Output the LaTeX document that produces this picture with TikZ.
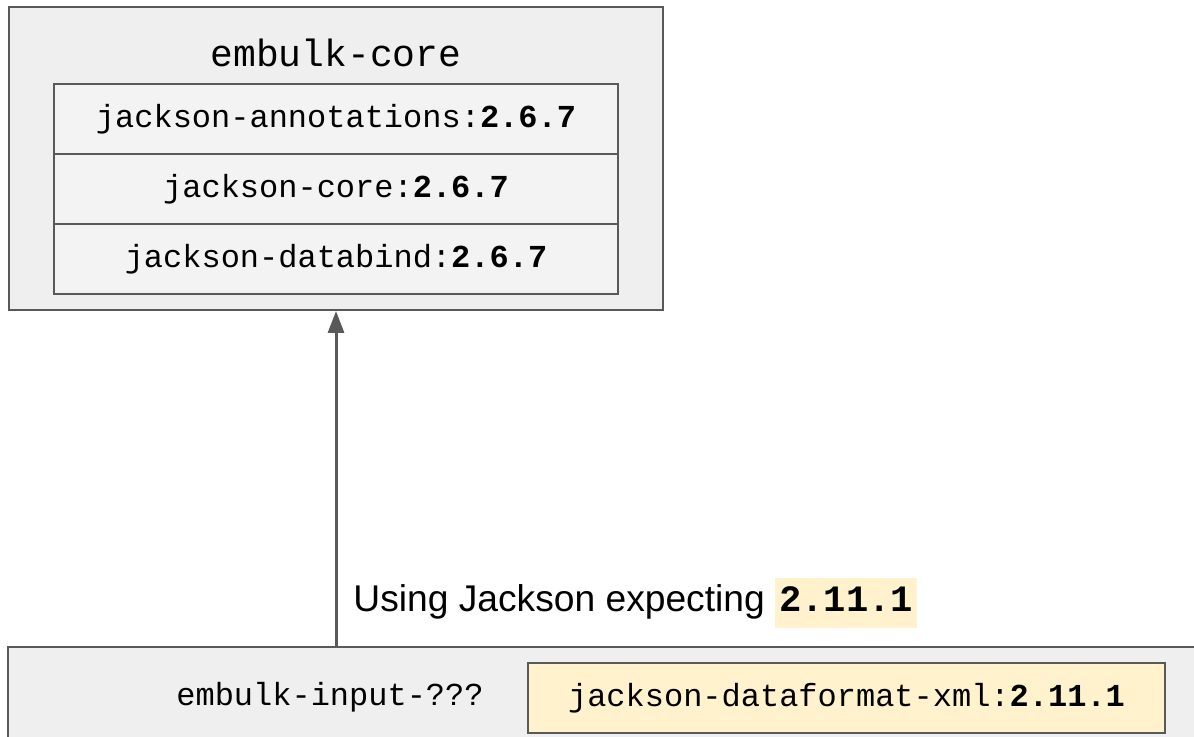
\documentclass[tikz,border=0pt]{standalone}
\usepackage{fontspec}
\setmainfont{Liberation Sans}
\setmonofont{Liberation Mono}
\usetikzlibrary{positioning,arrows.meta}

\definecolor{boxgray}{HTML}{EFEFEF}
\definecolor{rowgray}{HTML}{F3F3F3}
\definecolor{linegray}{HTML}{595959}
\definecolor{libyellow}{HTML}{FFF2CC}

\begin{document}
\begin{tikzpicture}[x=0.5pt,y=-0.5pt]
\tikzstyle{every node}+=[inner sep=0pt]
\tikzstyle{module}=[draw=linegray, fill=boxgray, line width=1pt]
\tikzstyle{jar}=[draw=linegray, fill=rowgray, line width=1pt, minimum width=282pt, minimum height=35pt, font=\fontsize{16}{18}\selectfont\ttfamily]
\useasboundingbox (0,0) rectangle (1194,737);
% embulk-core with its jackson jars
\node [module, minimum width=327pt, minimum height=151.5pt] (core) at (336,158.5) {};
\node [font=\fontsize{19}{22}\selectfont\ttfamily] (coretitle) at (336,53) {embulk-core};
\node [jar] (annotations) at (336,119) {jackson-annotations:\textbf{2.6.7}};
\node [jar, below=-1pt of annotations] (jcore) {jackson-core:\textbf{2.6.7}};
\node [jar, below=-1pt of jcore] (databind) {jackson-databind:\textbf{2.6.7}};
% the plugin
\node [module, minimum width=596pt, minimum height=49pt] (input) at (604,696) {};
\node [font=\fontsize{16}{18}\selectfont\ttfamily] (inputtitle) at (330,697) {embulk-input-???};
\node [jar, fill=libyellow, minimum width=318.5pt] (xml) at (846.5,698) {jackson-dataformat-xml:\textbf{2.11.1}};
% dependency
\draw [linegray, line width=1.5pt, -{Triangle[length=11pt,width=8pt]}] (input.north -| annotations) -- (core.south -| annotations);
\node [anchor=west, font=\fontsize{18.6}{21}\selectfont] (expect) at (353,603) {Using Jackson expecting \setlength{\fboxsep}{2pt}\colorbox{libyellow}{\ttfamily\bfseries\strut 2.11.1}};
\end{tikzpicture}
\end{document}
